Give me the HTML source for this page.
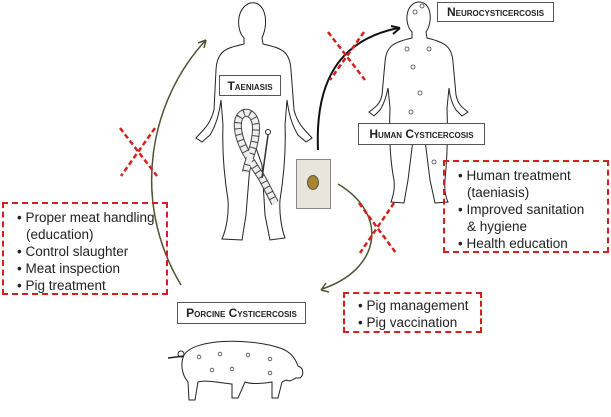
<!DOCTYPE html>
<html><head><meta charset="utf-8"><style>
body{margin:0;width:611px;height:417px;background:#fff;overflow:hidden;position:relative;font-family:"Liberation Sans",sans-serif}
.lbl{position:absolute;border:1.5px solid #555;background:#fff;font-weight:bold;font-size:12px;color:#222;display:flex;align-items:center;justify-content:center;font-variant:small-caps;box-sizing:border-box;white-space:nowrap}
.red{position:absolute;border:2px dashed #d62020;box-sizing:border-box;font-size:13.5px;color:#222;line-height:17px}
.red div{padding-left:10px;text-indent:-9px}
</style></head><body>
<svg width="611" height="417" style="position:absolute;left:0;top:0" fill="none" stroke="#222" stroke-width="1">
<path d="M244,38 C236,30 236,8 250,3 C264,0 270,20 262,38 L263,44 C280,48 290,50 291,70 L294,110 C298,125 305,130 312,138 L306,142 L298,135 C292,125 289,115 287,100 L285,125 C286,150 284,175 280,200 C279,215 282,230 285,238 L270,240 L265,215 L262,165 L256,148 L250,165 L246,215 L242,240 L222,239 C226,230 229,215 228,200 C224,175 222,150 223,125 L221,100 C219,115 216,125 210,135 L202,142 L196,138 C203,130 210,125 214,110 L216,70 C217,50 227,48 244,44 Z"/>
<path d="M275,203 L262,178 C250,160 236,140 238,122 C240,108 256,110 256,128 C256,145 248,160 246,172" stroke="#444" stroke-width="8"/>
<path d="M275,203 L262,178 C250,160 236,140 238,122 C240,108 256,110 256,128 C256,145 248,160 246,172" stroke="#eee" stroke-width="6" stroke-dasharray="5,1"/>
<path d="M262,178 L268,135" stroke="#333" stroke-width="1.5"/><circle cx="268" cy="132" r="2.5"/>
<path d="M412,32 C404,24 405,4 418,2 C432,1 433,22 426,32 L427,38 C444,42 452,46 453,62 L456,95 C458,105 463,108 468,112 L462,116 L456,110 C452,104 450,98 449,88 L447,108 C448,135 447,160 445,180 C444,192 446,198 448,202 L435,203 L430,180 L425,140 L419,126 L413,140 L408,180 L404,203 L391,202 C393,196 395,190 394,180 C390,160 389,135 390,108 L388,88 C386,98 384,104 380,110 L374,116 L369,112 C374,108 380,105 382,95 L385,62 C386,46 394,42 412,38 Z"/>
<g stroke="#444" stroke-width="0.8"><circle cx="415" cy="12" r="2"/><circle cx="422" cy="6" r="2"/><circle cx="407" cy="49" r="2"/><circle cx="429" cy="49" r="2"/><circle cx="413" cy="67" r="2"/><circle cx="420" cy="93" r="2"/><circle cx="411" cy="112" r="2"/><circle cx="434" cy="162" r="2"/></g>
<path d="M184,355 C195,338 250,338 280,348 C292,352 296,360 298,366 C304,368 304,375 300,378 L296,378 C292,380 290,382 286,380 L282,382 L278,398 L272,398 L272,382 C262,384 250,384 245,382 L238,398 L232,398 L232,384 C215,382 205,380 198,382 L195,400 L189,400 L188,382 C182,375 180,364 184,355 Z"/>
<path d="M184,356 L168,358" stroke-width="1.5"/><circle cx="181" cy="354" r="3"/>
<g stroke="#444" stroke-width="0.8"><circle cx="199" cy="357" r="1.8"/><circle cx="220" cy="354" r="1.8"/><circle cx="248" cy="355" r="1.8"/><circle cx="270" cy="359" r="1.8"/><circle cx="212" cy="370" r="1.8"/><circle cx="232" cy="369" r="1.8"/><circle cx="270" cy="373" r="1.8"/></g>
<path d="M181,285 C130,200 150,100 206,40" stroke="#4a5530" stroke-width="1.5"/>
<path d="M206,40 L198,43 M206,40 L204,48" stroke="#4a5530" stroke-width="1.5"/>
<path d="M318,150 C315,80 340,40 398,28" stroke="#111" stroke-width="2"/>
<path d="M400,28 L391,26 M400,28 L393,34" stroke="#111" stroke-width="2"/>
<path d="M338,184 C390,215 380,270 322,289" stroke="#4a5530" stroke-width="1.5"/>
<path d="M321,290 L326,283 M321,290 L329,292" stroke="#4a5530" stroke-width="1.5"/>
<g stroke="#d62020" stroke-width="2.5" stroke-dasharray="5,3">
<path d="M120,128 L157,176 M155,128 L121,176"/>
<path d="M328,32 L365,80 M364,32 L330,80"/>
<path d="M359,203 L396,253 M394,203 L360,253"/>
</g>
</svg>
<div style="position:absolute;left:296px;top:159px;width:35px;height:50px;background:#e8e6dc;border:1px solid #888;box-sizing:border-box"><div style="position:absolute;left:10px;top:15px;width:10px;height:13px;border-radius:50%;background:#a8842c;border:1px solid #555"></div></div>
<div class="lbl" style="left:437px;top:2px;width:117px;height:20px">Neurocysticercosis</div>
<div class="lbl" style="left:219px;top:75px;width:62px;height:21px">Taeniasis</div>
<div class="lbl" style="left:358px;top:123px;width:127px;height:22px">Human Cysticercosis</div>
<div class="lbl" style="left:177px;top:302px;width:129px;height:22px">Porcine Cysticercosis</div>
<div class="red" style="left:443px;top:160px;width:166px;height:93px;padding:5px 0 0 12px">
<div>• Human treatment<br>(taeniasis)</div><div>• Improved sanitation<br>&amp; hygiene</div><div>• Health education</div></div>
<div class="red" style="left:2px;top:202px;width:166px;height:93px;padding:5px 0 0 12px">
<div>• Proper meat handling<br>(education)</div><div>• Control slaughter</div><div>• Meat inspection</div><div>• Pig treatment</div></div>
<div class="red" style="left:343px;top:292px;width:139px;height:41px;padding:3px 0 0 12px">
<div>• Pig management</div><div>• Pig vaccination</div></div>
</body></html>
